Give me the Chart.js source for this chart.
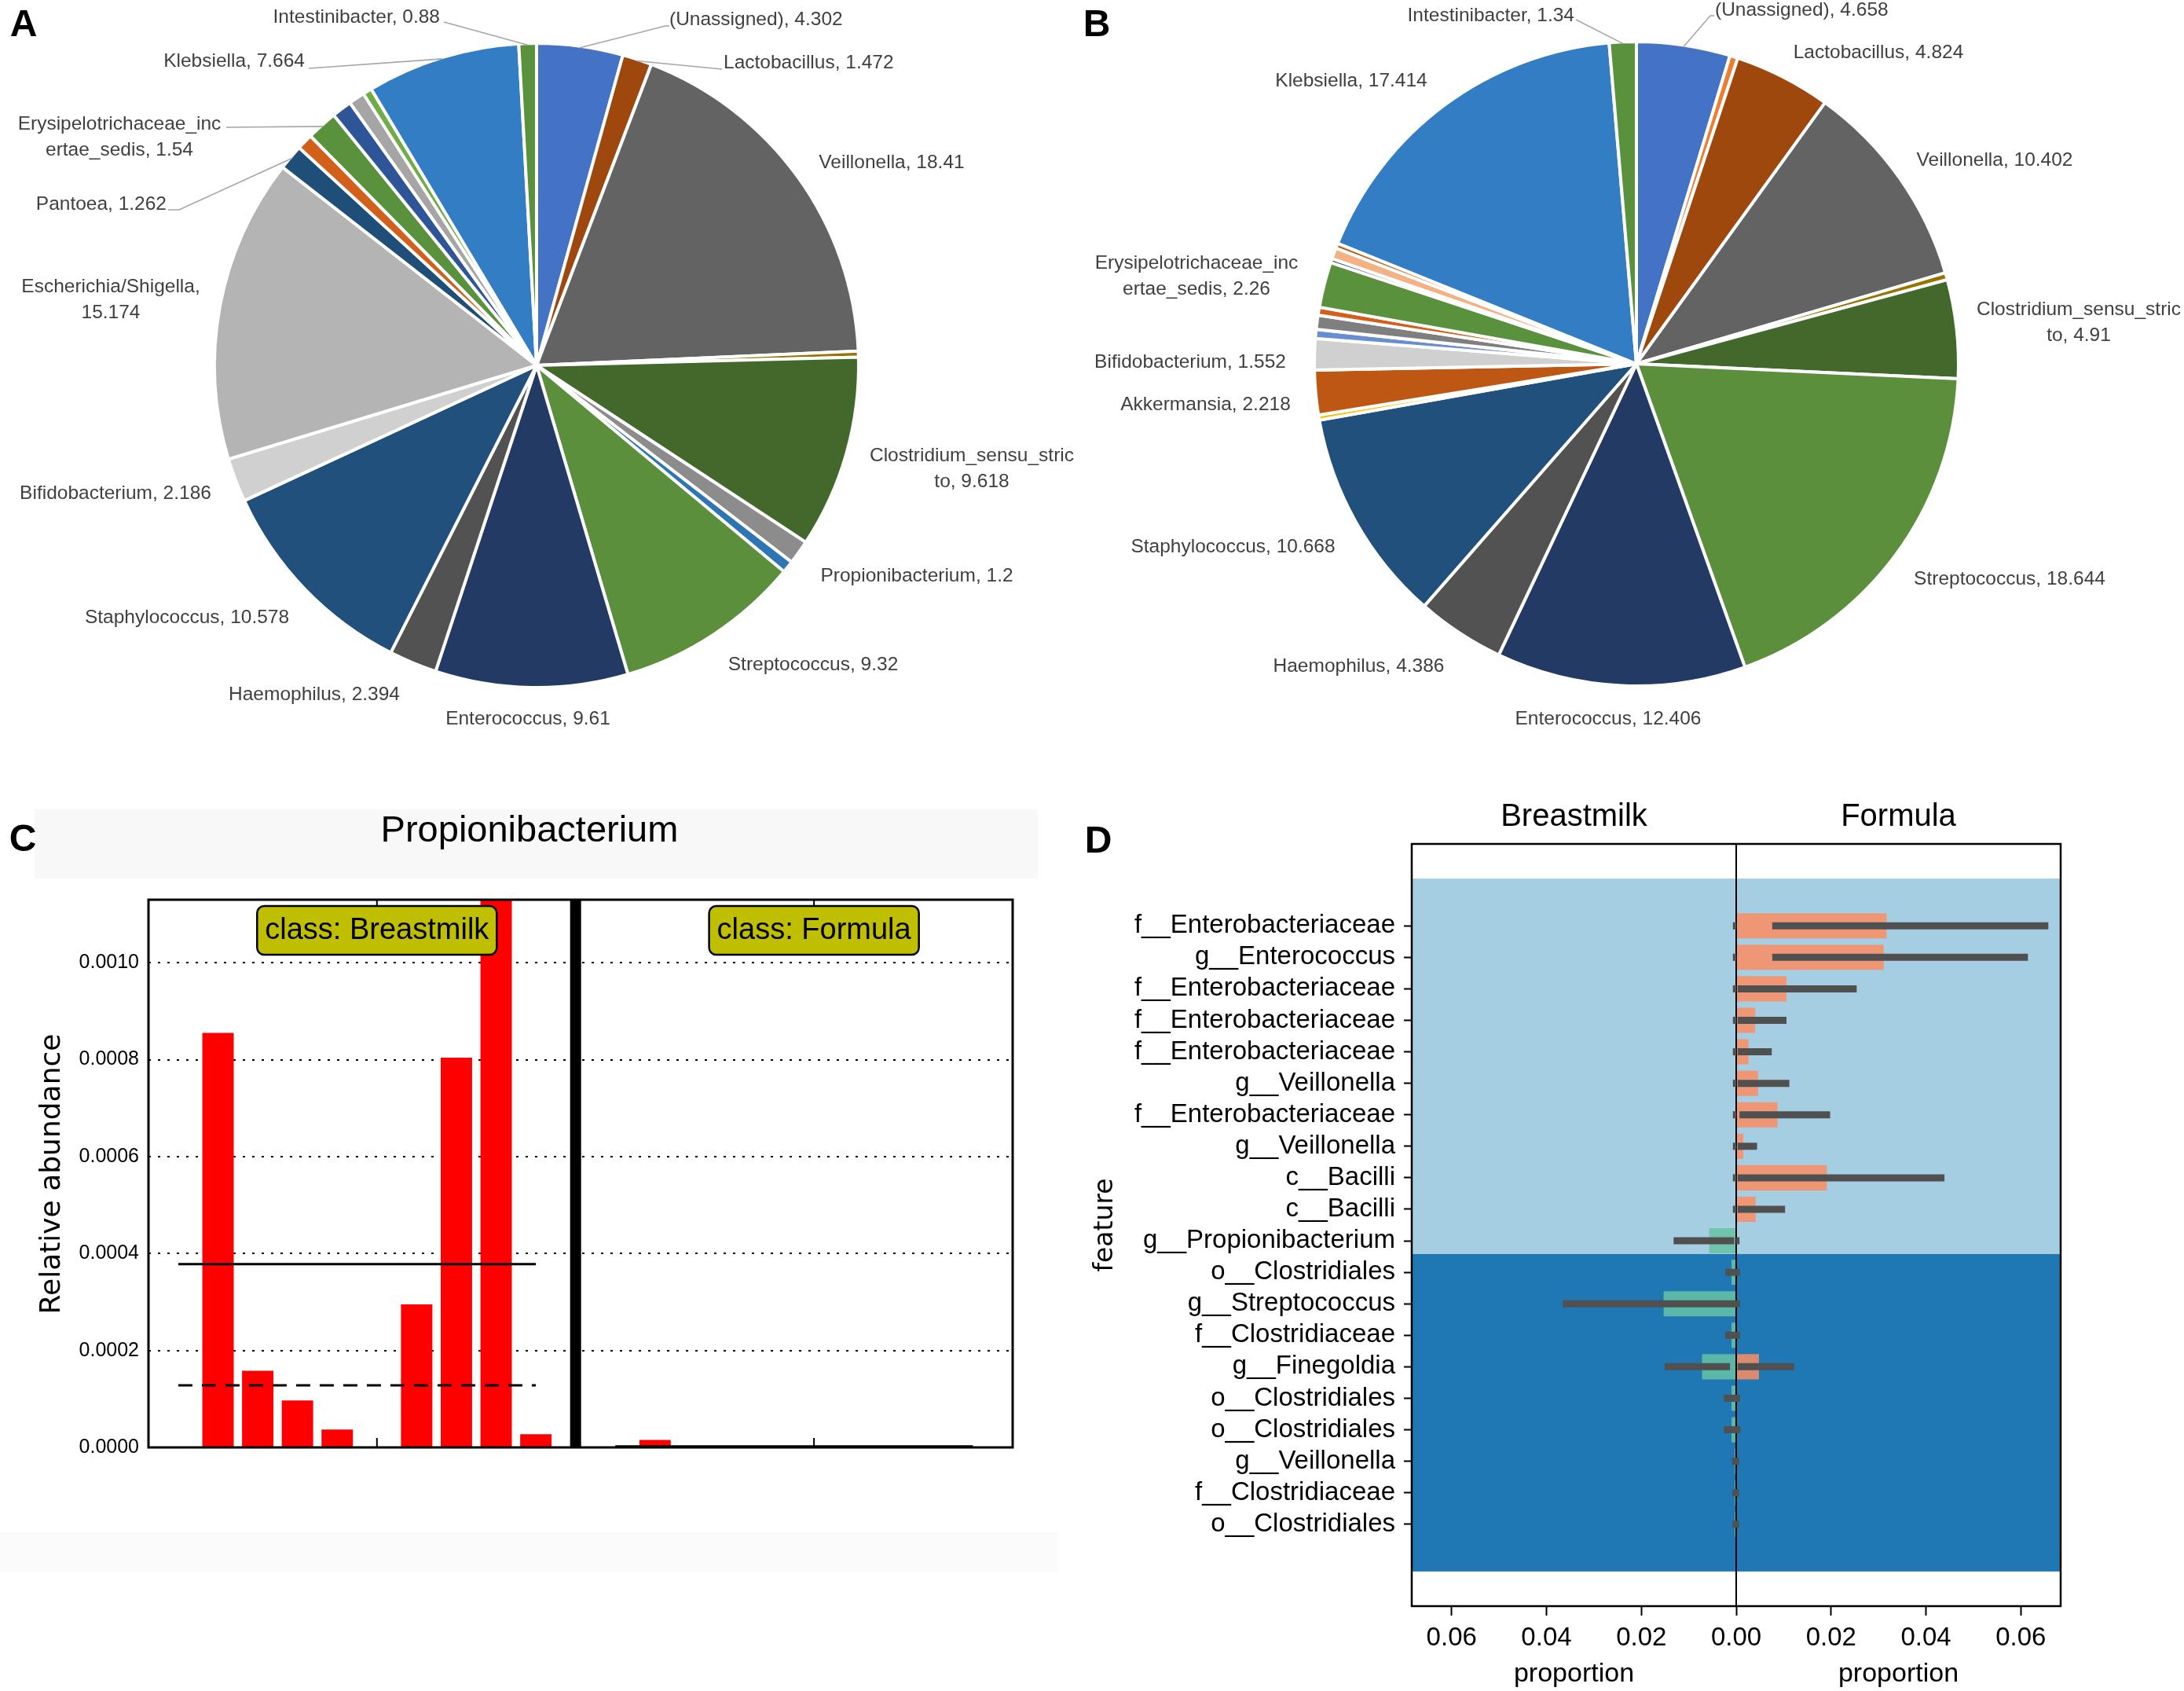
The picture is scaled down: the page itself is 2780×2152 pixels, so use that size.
<!DOCTYPE html>
<html><head><meta charset="utf-8">
<script src="https://cdn.jsdelivr.net/npm/chart.js@4.4.1/dist/chart.umd.min.js"></script>
<style>
html,body{margin:0;padding:0;background:#fff;}
#page{position:relative;width:2780px;height:2152px;overflow:hidden;background:#fff;}
canvas{position:absolute;}
.letter{position:absolute;font:bold 48px "Liberation Sans",Arial,sans-serif;color:#000;line-height:1;transform:translate(-50%,-50%);}
.band{position:absolute;}
</style></head>
<body><div id="page">
<div class="band" style="left:44px;top:1030px;width:1277px;height:88px;background:#f8f8f8"></div>
<div class="band" style="left:0;top:1950px;width:1347px;height:50px;background:#fbfbfb"></div>
<canvas id="cA" width="1390" height="1000" style="left:0;top:0;width:1390px;height:1000px"></canvas>
<canvas id="cB" width="1390" height="1000" style="left:1390px;top:0;width:1390px;height:1000px"></canvas>
<canvas id="cC" width="1390" height="1000" style="left:0;top:1000px;width:1390px;height:1000px"></canvas>
<canvas id="cD" width="1390" height="1152" style="left:1390px;top:1000px;width:1390px;height:1152px"></canvas>
<div class="letter" style="left:30px;top:30px">A</div>
<div class="letter" style="left:1396px;top:30px">B</div>
<div class="letter" style="left:29px;top:1067px">C</div>
<div class="letter" style="left:1398px;top:1069px">D</div>
</div>
<script>
// ---------------- DATA ----------------
// Panel A (Breastmilk genus composition, %), clockwise from 12 o'clock
const pieANames = ['(Unassigned)','Lactobacillus','Veillonella','','Clostridium_sensu_stricto','Propionibacterium','','Streptococcus','Enterococcus','Haemophilus','Staphylococcus','Bifidobacterium','Escherichia/Shigella','Pantoea','','Erysipelotrichaceae_incertae_sedis','','','','Klebsiella','Intestinibacter'];
const pieAValues = [4.302,1.472,18.41,0.3,9.618,1.2,0.6,9.32,9.61,2.394,10.578,2.186,15.174,1.262,0.8,1.54,1.0,0.8,0.45,7.664,0.88];
// Panel B (Formula genus composition, %)
const pieBNames = ['(Unassigned)','','Lactobacillus','Veillonella','','Clostridium_sensu_stricto','Streptococcus','Enterococcus','Haemophilus','Staphylococcus','','Akkermansia','Bifidobacterium','','','','Erysipelotrichaceae_incertae_sedis','','','','Klebsiella','Intestinibacter'];
const pieBValues = [4.658,0.4,4.824,10.402,0.35,4.91,18.644,12.406,4.386,10.668,0.25,2.218,1.552,0.45,0.7,0.4,2.26,0.2,0.55,0.25,17.414,1.34];

// Panel C (Propionibacterium relative abundance per sample)
const cTitle = 'Propionibacterium';
const cClasses = ['Breastmilk','Formula'];
const breastmilkSamples = [0.000855,0.000158,0.000097,0.000037,0,0.000295,0.000804,0.00113,0.000027];
const formulaSamples = [0.0000155,0,0,0,0,0,0,0,0];
const breastmilkMean = 0.000378;
const breastmilkMedian = 0.000128;
const formulaMean = 0.000002;
const formulaMedian = 0;
const cTicks = [0,0.0002,0.0004,0.0006,0.0008,0.0010];

// Panel D (LEfSe-style differential features)
const features = ['f__Enterobacteriaceae','g__Enterococcus','f__Enterobacteriaceae','f__Enterobacteriaceae','f__Enterobacteriaceae','g__Veillonella','f__Enterobacteriaceae','g__Veillonella','c__Bacilli','c__Bacilli','g__Propionibacterium','o__Clostridiales','g__Streptococcus','f__Clostridiaceae','g__Finegoldia','o__Clostridiales','o__Clostridiales','g__Veillonella','f__Clostridiaceae','o__Clostridiales'];
const formulaProp    = [0.0317,0.0311,0.0106,0.0040,0.0026,0.0046,0.0087,0.0015,0.0191,0.0041,0,0,0,0,0.0048,0,0,0,0,0];
const breastmilkProp = [0,0,0,0,0,0,0,0,0,0,0.0057,0.0010,0.0153,0.0010,0.0072,0.0010,0.0010,0.0003,0.0003,0.0003];
const formulaErrLow  = [0.0076,0.0076,0.0003,0.0003,0.0003,0.0003,0.0007,0.0003,0.0003,0.0003,0,0,0,0,0.0003,0,0,0,0,0];
const formulaErrHigh = [0.0658,0.0615,0.0254,0.0106,0.0075,0.0112,0.0198,0.0044,0.0439,0.0103,0.0007,0.0008,0.0008,0.0008,0.0122,0.0008,0.0009,0.0006,0.0006,0.0006];
const breastErrLow   = [0,0,0,0,0,0,0,0,0,0,0.0004,0,0,0,0.0013,0,0,0,0,0];
const breastErrHigh  = [0.0007,0.0007,0.0007,0.0007,0.0007,0.0007,0.0007,0.0007,0.0007,0.0007,0.0132,0.0023,0.0366,0.0023,0.0151,0.0026,0.0026,0.0009,0.0008,0.0008];
const dTicks = [-0.06,-0.04,-0.02,0,0.02,0.04,0.06];
const dGroups = ['Breastmilk','Formula'];
const dBand1 = [-1.5,10.42];
const dBand2 = [10.42,20.5];

// ---------------- STYLES ----------------
const pieAColors = ['#4472C4','#9E480E','#636363','#997300','#43682B','#8C8C8C','#2E75B6','#5B8F3B','#223A64','#525252','#22507C','#D0D0D0','#B4B4B4','#1F4E79','#D2601A','#5A913C','#2E5597','#A5A5A5','#70AD47','#327DC3','#5A913C'];
const pieBColors = ['#4472C4','#ED7D31','#9E480E','#636363','#997300','#43682B','#5B8F3B','#223A64','#525252','#22507C','#FFC000','#BE5614','#D0D0D0','#698ED0','#7F7F7F','#D2601A','#5A913C','#264478','#F4B183','#C55A11','#327DC3','#5A913C'];

const LS = '"Liberation Sans", Arial, sans-serif';
const DJ = '"DejaVu Sans", sans-serif';
Chart.defaults.font.family = LS;
Chart.defaults.color = '#000';

// label layout (canvas-local coordinates)
const labelLayoutA = [
 {i:0, x:852, y:25, align:'left', leader:[[847,33],[852,33]]},
 {i:1, x:921, y:80, align:'left', leader:[[919,88]]},
 {i:2, x:1135, y:207, align:'center'},
 {i:4, x:1237, y:580, align:'center', wrap:23},
 {i:5, x:1167, y:733, align:'center'},
 {i:7, x:1035, y:846, align:'center'},
 {i:8, x:672, y:915, align:'center'},
 {i:9, x:400, y:884, align:'center'},
 {i:10, x:238, y:786, align:'center'},
 {i:11, x:147, y:628, align:'center'},
 {i:12, x:141, y:365, align:'center', wrap:21},
 {i:13, x:212, y:260, align:'right', leader:[[228,267],[214,267]]},
 {i:15, x:152, y:158, align:'center', wrap:23, leader:[[288,162]]},
 {i:19, x:388, y:78, align:'right', leader:[[393,87]]},
 {i:20, x:560, y:22, align:'right', leader:[[565,28]]}
];
const labelLayoutB = [
 {i:0, x:793, y:13, align:'left', leader:[[787,20],[792,20]]},
 {i:2, x:1001, y:67, align:'center'},
 {i:3, x:1149, y:204, align:'center'},
 {i:5, x:1256, y:394, align:'center', wrap:23},
 {i:6, x:1168, y:737, align:'center'},
 {i:7, x:657, y:915, align:'center'},
 {i:8, x:339.5, y:848, align:'center'},
 {i:9, x:179.5, y:696, align:'center'},
 {i:11, x:144.5, y:515, align:'center'},
 {i:12, x:125, y:461, align:'center'},
 {i:16, x:133, y:335, align:'center', wrap:23},
 {i:20, x:330, y:103, align:'center'},
 {i:21, x:614, y:20, align:'right', leader:[[616,25]]}
];

function pieLabelPlugin(layout){
  return {
    id:'pieLabels',
    afterDatasetsDraw(chart){
      const ctx = chart.ctx, meta = chart.getDatasetMeta(0);
      const names = chart.data.labels, vals = chart.data.datasets[0].data;
      ctx.save();
      ctx.font = '24.5px ' + LS;
      ctx.textBaseline = 'middle';
      for (const L of layout){
        const p = meta.data[L.i].getProps(['x','y','startAngle','endAngle','outerRadius'], true);
        const mid = (p.startAngle + p.endAngle)/2;
        if (L.leader){
          ctx.beginPath();
          ctx.moveTo(p.x + Math.cos(mid)*(p.outerRadius-2), p.y + Math.sin(mid)*(p.outerRadius-2));
          for (const [lx,ly] of L.leader) ctx.lineTo(lx,ly);
          ctx.strokeStyle = '#A6A6A6'; ctx.lineWidth = 1.6; ctx.stroke();
        }
        const text = names[L.i] + ', ' + vals[L.i];
        const lines = L.wrap ? [text.slice(0,L.wrap), text.slice(L.wrap).trim()] : [text];
        ctx.fillStyle = '#404040';
        ctx.textAlign = L.align;
        lines.forEach((t,k)=>ctx.fillText(t, L.x, L.y + k*33));
      }
      ctx.restore();
    }
  };
}

function makePie(id, names, values, colors, pad, layout){
  new Chart(document.getElementById(id), {
    type:'pie',
    data:{labels:names, datasets:[{data:values, backgroundColor:colors, borderColor:'#ffffff', borderWidth:4, borderJoinStyle:'miter'}]},
    options:{responsive:false, animation:false, devicePixelRatio:1,
      layout:{padding:pad},
      plugins:{legend:{display:false}, tooltip:{enabled:false}}},
    plugins:[pieLabelPlugin(layout)]
  });
}
makePie('cA', pieANames, pieAValues, pieAColors, {left:271,right:295,top:53,bottom:123}, labelLayoutA);
makePie('cB', pieBNames, pieBValues, pieBColors, {left:281,right:285,top:51,bottom:125}, labelLayoutB);

// ---------------- PANEL C ----------------
const nB = breastmilkSamples.length, nF = formulaSamples.length;
const fStart = nB + 2;
const sepIndex = nB;
const groupCenters = [(nB-1)/2, fStart + (nF-1)/2];
const cPlugin = {
  id:'cDeco',
  afterDraw(chart){
    const ctx = chart.ctx, a = chart.chartArea, xs = chart.scales.x;
    ctx.save();
    // separator
    const sx = xs.getPixelForValue(sepIndex);
    ctx.fillStyle = '#000';
    ctx.fillRect(sx-7, a.top, 14, a.bottom-a.top);
    // frame
    ctx.strokeStyle = '#000'; ctx.lineWidth = 3;
    ctx.strokeRect(a.left, a.top, a.right-a.left, a.bottom-a.top);
    // x ticks at group centers (inside)
    ctx.lineWidth = 2;
    groupCenters.forEach(g=>{
      const gx = xs.getPixelForValue(g);
      ctx.beginPath(); ctx.moveTo(gx,a.top); ctx.lineTo(gx,a.top+9); ctx.stroke();
      ctx.beginPath(); ctx.moveTo(gx,a.bottom); ctx.lineTo(gx,a.bottom-12); ctx.stroke();
    });
    // class boxes
    ctx.font = '38px ' + LS;
    ctx.textAlign = 'center'; ctx.textBaseline = 'middle';
    cClasses.forEach((c,k)=>{
      const t = 'class: ' + c;
      const w = ctx.measureText(t).width + 20, h = 62;
      const cx = xs.getPixelForValue(groupCenters[k]), cy = a.top + 39;
      ctx.beginPath(); ctx.roundRect(cx-w/2, cy-h/2, w, h, 9);
      ctx.fillStyle = '#BFBF00'; ctx.fill();
      ctx.lineWidth = 2.5; ctx.strokeStyle = '#000'; ctx.stroke();
      ctx.fillStyle = '#000'; ctx.fillText(t, cx, cy+1);
    });
    // title
    ctx.font = '47px ' + LS;
    ctx.fillText(cTitle, 674, 58);
    // y title
    ctx.save();
    ctx.translate(67, 494); ctx.rotate(-Math.PI/2);
    ctx.font = '36px ' + DJ;
    ctx.fillText('Relative abundance', 0, 0);
    ctx.restore();
    ctx.restore();
  }
};
new Chart(document.getElementById('cC'), {
  type:'bar',
  data:{datasets:[
    {type:'line', data:[{x:-1,y:breastmilkMean},{x:nB-1,y:breastmilkMean}], borderColor:'#000', borderWidth:3, pointRadius:0, order:0},
    {type:'line', data:[{x:-1,y:breastmilkMedian},{x:nB-1,y:breastmilkMedian}], borderColor:'#000', borderWidth:3, borderDash:[18,12], pointRadius:0, order:0},
    {type:'line', data:[{x:fStart-1,y:formulaMean},{x:fStart+nF-1,y:formulaMean}], borderColor:'#000', borderWidth:3, pointRadius:0, order:0},
    {type:'line', data:[{x:fStart-1,y:formulaMedian},{x:fStart+nF-1,y:formulaMedian}], borderColor:'#000', borderWidth:3, borderDash:[18,12], pointRadius:0, order:0},
    {type:'bar', data:breastmilkSamples.map((v,i)=>({x:i,y:v})), backgroundColor:'#FF0000', barPercentage:0.79, categoryPercentage:1, grouped:false, order:1},
    {type:'bar', data:formulaSamples.map((v,i)=>({x:fStart+i,y:v})), backgroundColor:'#FF0000', barPercentage:0.79, categoryPercentage:1, grouped:false, order:1}
  ]},
  options:{responsive:false, animation:false, devicePixelRatio:1,
    layout:{padding:{left:0, top:145, right:101, bottom:158}},
    plugins:{legend:{display:false}, tooltip:{enabled:false}},
    scales:{
      x:{type:'linear', display:false, offset:false, min:-1.75, max:20,
         afterBuildTicks:s=>{s.ticks = groupCenters.map(v=>({value:v}));}},
      y:{type:'linear', min:0, max:0.00113, z:1, offset:false,
         afterFit:s=>{s.width = 189;},
         afterBuildTicks:s=>{s.ticks = cTicks.map(v=>({value:v}));},
         ticks:{callback:v=>Number(v).toFixed(4), font:{size:25, family:LS}, color:'#000', padding:12, autoSkip:false},
         grid:{color:'#000', lineWidth:2, drawTicks:false},
         border:{display:false, dash:[3,9]}}
    }
  },
  plugins:[cPlugin]
});

// ---------------- PANEL D ----------------
const dPlugin = {
  id:'dDeco',
  beforeDatasetsDraw(chart){
    const ctx = chart.ctx, a = chart.chartArea, ys = chart.scales.y;
    ctx.save();
    ctx.fillStyle = '#A6CEE3';
    let y1 = ys.getPixelForValue(dBand1[0]), y2 = ys.getPixelForValue(dBand1[1]);
    ctx.fillRect(a.left, y1, a.right-a.left, y2-y1);
    ctx.fillStyle = '#1F78B4';
    y1 = ys.getPixelForValue(dBand2[0]); y2 = ys.getPixelForValue(dBand2[1]);
    ctx.fillRect(a.left, y1, a.right-a.left, y2-y1);
    ctx.restore();
  },
  afterDatasetsDraw(chart){
    const ctx = chart.ctx, a = chart.chartArea, xs = chart.scales.x, ys = chart.scales.y;
    ctx.save();
    const x0 = xs.getPixelForValue(0);
    ctx.strokeStyle = '#000'; ctx.lineWidth = 2;
    ctx.beginPath(); ctx.moveTo(x0, a.top); ctx.lineTo(x0, a.bottom); ctx.stroke();
    // error bars
    ctx.strokeStyle = '#505050'; ctx.lineWidth = 9; ctx.lineCap = 'butt';
    features.forEach((f,i)=>{
      const y = ys.getPixelForValue(i);
      ctx.beginPath(); ctx.moveTo(xs.getPixelForValue(formulaErrLow[i]), y); ctx.lineTo(xs.getPixelForValue(formulaErrHigh[i]), y); ctx.stroke();
      ctx.beginPath(); ctx.moveTo(xs.getPixelForValue(-breastErrLow[i]), y); ctx.lineTo(xs.getPixelForValue(-breastErrHigh[i]), y); ctx.stroke();
    });
    // frame
    ctx.strokeStyle = '#000'; ctx.lineWidth = 2.5;
    ctx.strokeRect(a.left, a.top, a.right-a.left, a.bottom-a.top);
    ctx.restore();
  },
  afterDraw(chart){
    const ctx = chart.ctx, a = chart.chartArea, xs = chart.scales.x;
    const x0 = xs.getPixelForValue(0);
    const centers = [(a.left+x0)/2, (x0+a.right)/2];
    ctx.save();
    ctx.fillStyle = '#000'; ctx.textAlign = 'center'; ctx.textBaseline = 'middle';
    ctx.font = '40px ' + LS;
    dGroups.forEach((g,k)=>ctx.fillText(g, centers[k], 40));
    ctx.font = '34px ' + LS;
    centers.forEach(c=>ctx.fillText('proportion', c, 1131));
    ctx.save();
    ctx.translate(17, (a.top+a.bottom)/2); ctx.rotate(-Math.PI/2);
    ctx.font = '33px ' + DJ;
    ctx.fillText('feature', 0, 0);
    ctx.restore();
    ctx.restore();
  }
};
new Chart(document.getElementById('cD'), {
  type:'bar',
  data:{datasets:[
    {label:'Formula', data:features.map((f,i)=>({x:formulaProp[i], y:i})), backgroundColor:'rgba(252,141,98,0.85)', barPercentage:0.8, categoryPercentage:1, grouped:false},
    {label:'Breastmilk', data:features.map((f,i)=>({x:-breastmilkProp[i], y:i})), backgroundColor:'rgba(102,194,165,0.85)', barPercentage:0.8, categoryPercentage:1, grouped:false}
  ]},
  options:{indexAxis:'y', responsive:false, animation:false, devicePixelRatio:1,
    layout:{padding:{left:0, top:74, right:157, bottom:0}},
    plugins:{legend:{display:false}, tooltip:{enabled:false}},
    scales:{
      x:{type:'linear', min:-0.0684, max:0.0684, offset:false,
         afterBuildTicks:s=>{s.ticks = dTicks.map(v=>({value:v}));},
         afterFit:s=>{s.height = 108;},
         ticks:{callback:v=>Math.abs(v).toFixed(2), font:{size:33, family:LS}, color:'#000', padding:9, maxRotation:0, autoSkip:false},
         grid:{drawOnChartArea:false, drawTicks:true, tickLength:12, tickWidth:2, tickColor:'#000'},
         border:{display:false}},
      y:{type:'linear', reverse:true, min:-2.6, max:21.6, offset:false,
         afterBuildTicks:s=>{s.ticks = features.map((f,i)=>({value:i}));},
         afterFit:s=>{s.width = 407;},
         ticks:{callback:v=>features[v], font:{size:33, family:LS}, color:'#000', padding:11, autoSkip:false},
         grid:{drawOnChartArea:false, drawTicks:true, tickLength:10, tickWidth:2, tickColor:'#000', offset:false},
         border:{display:false}}
    }
  },
  plugins:[dPlugin]
});
</script>
</body></html>
